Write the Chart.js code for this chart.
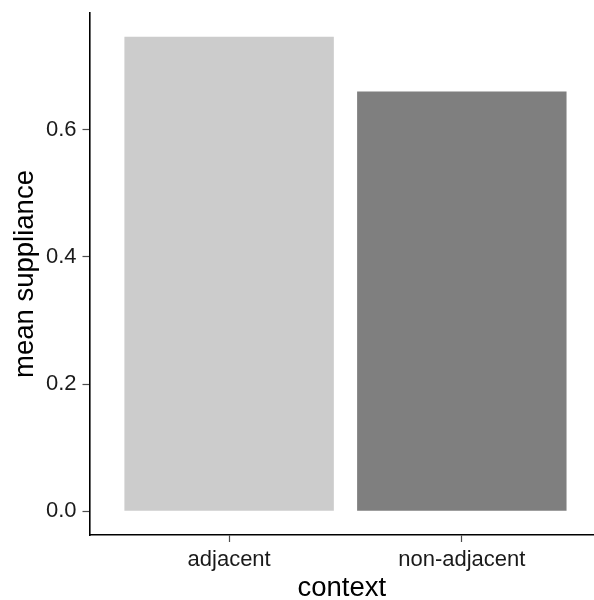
<!DOCTYPE html>
<html>
<head>
<meta charset="utf-8">
<title>mean suppliance by context</title>
<script src="https://cdn.jsdelivr.net/npm/chart.js@4/dist/chart.umd.min.js"></script>
<style>
  html, body { margin: 0; padding: 0; background: #fff; overflow: hidden; }
  canvas { display: block; }
</style>
</head>
<body>
<canvas id="chart" width="594" height="600"></canvas>
<script>
// Data
const categories = ['adjacent', 'non-adjacent'];
const categoryPos = [1, 2];
const meanSuppliance = [0.746, 0.660];
const barColors = ['#cccccc', '#7f7f7f'];
const yTicks = [0, 0.2, 0.4, 0.6];

// ggplot style expansion of the value axis (5% each side)
const yMax = Math.max(...meanSuppliance);
const yPad = yMax * 0.05;

const fontFamily = '"Liberation Sans", Arial, Helvetica, sans-serif';

const ctx = document.getElementById('chart').getContext('2d');
const chart = new Chart(ctx, {
  type: 'bar',
  data: {
    datasets: [{
      data: categoryPos.map((x, i) => ({ x: x, y: meanSuppliance[i] })),
      backgroundColor: barColors,
      borderWidth: 0,
      barPercentage: 0.9,
      categoryPercentage: 1.0
    }]
  },
  options: {
    responsive: false,
    animation: false,
    layout: { padding: 0 },
    plugins: {
      legend: { display: false },
      tooltip: { enabled: false }
    },
    scales: {
      x: {
        type: 'linear',
        min: 0.4,
        max: 2.568,
        offset: false,
        afterFit: scale => { scale.height = 65; },
        afterBuildTicks: scale => {
          scale.ticks = categoryPos.map(v => ({ value: v }));
        },
        ticks: {
          autoSkip: false,
          maxRotation: 0,
          padding: 5,
          color: '#1a1a1a',
          font: { family: fontFamily, size: 22 },
          callback: v => categories[categoryPos.indexOf(v)]
        },
        grid: {
          offset: false,
          drawOnChartArea: false,
          drawTicks: true,
          tickLength: 7,
          tickWidth: 1.2,
          tickColor: '#4d4d4d'
        },
        border: { color: '#000', width: 1.6 },
        title: {
          display: true,
          text: 'context',
          color: '#000',
          font: { family: fontFamily, size: 27.5 },
          padding: { top: 0, bottom: -5 }
        }
      },
      y: {
        min: -yPad,
        max: yMax + yPad,
        afterFit: scale => {
          scale.width = 89.5;
          scale.paddingTop = 13;
        },
        afterBuildTicks: scale => {
          scale.ticks = yTicks.map(v => ({ value: v }));
        },
        ticks: {
          padding: 6,
          color: '#1a1a1a',
          font: { family: fontFamily, size: 22 },
          callback: v => v.toFixed(1)
        },
        grid: {
          drawOnChartArea: false,
          drawTicks: true,
          tickLength: 7,
          tickWidth: 1.2,
          tickColor: '#4d4d4d'
        },
        border: { color: '#000', width: 1.6 },
        title: {
          display: true,
          text: 'mean suppliance',
          color: '#000',
          font: { family: fontFamily, size: 27.5 },
          padding: { top: 8.5, bottom: 0 }
        }
      }
    }
  }
});
</script>
</body>
</html>
